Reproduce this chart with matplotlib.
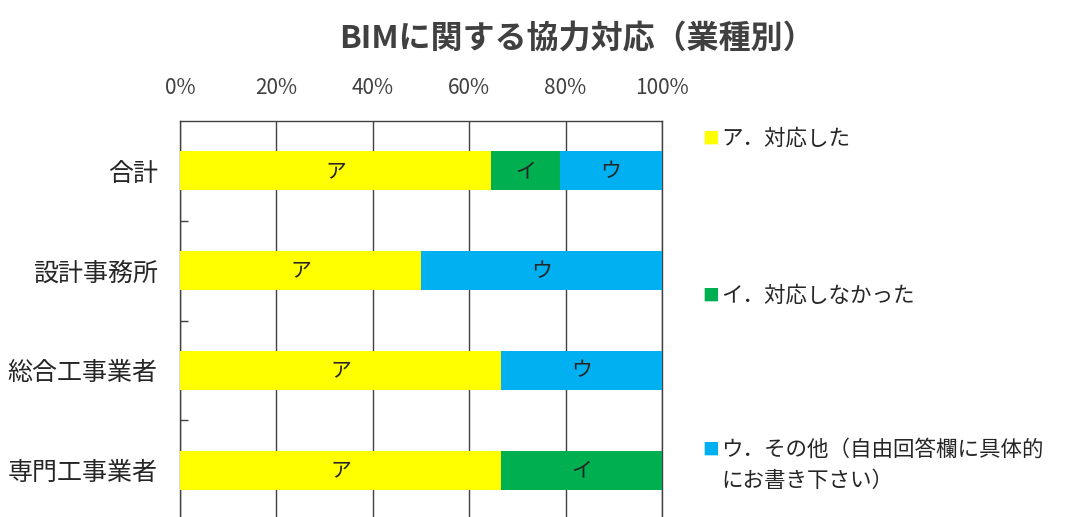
import matplotlib
matplotlib.use('Agg')
import matplotlib.pyplot as plt
import numpy as np

plt.rcParams['font.family'] = ['Noto Sans CJK JP', 'DejaVu Sans']

# 業種別の回答割合（%）
categories = ['合計', '設計事務所', '総合工事業者', '専門工事業者']
seg_labels = ['ア', 'イ', 'ウ']
legend_labels = ['ア．対応した', 'イ．対応しなかった', 'ウ．その他（自由回答欄に具体的\nにお書き下さい）']
a_vals = [64.6, 50.0, 66.7, 66.7]
i_vals = [14.2, 0.0, 0.0, 33.3]
u_vals = [21.2, 50.0, 33.3, 0.0]
colors = ['#FFFF00', '#00B050', '#00B0F0']
xticks = [0, 20, 40, 60, 80, 100]

fig = plt.figure(figsize=(10.72, 5.17), dpi=100)
ax = fig.add_axes([180 / 1072, 1 - 520 / 517, 482 / 1072, 399 / 517])

y = np.arange(len(categories))
left = np.zeros(len(categories))
for vals, lab, c in zip([a_vals, i_vals, u_vals], seg_labels, colors):
    vals = np.array(vals)
    ax.barh(y, vals, left=left, height=0.39, color=c, zorder=3)
    for yi, l, v in zip(y, left, vals):
        if v > 0:
            ax.text(l + v / 2, yi, lab, ha='center', va='center',
                    fontsize=15, color='#262626', zorder=4)
    left += vals

ax.set_xlim(0, 100)
ax.set_ylim(3.5, -0.5)

# 目盛り（上側）
ax.xaxis.tick_top()
ax.set_xticks(xticks)
ax.set_xticklabels([f'{t}%' for t in xticks], fontsize=15, color='#404040')
ax.tick_params(axis='x', length=0, pad=16)
ax.grid(axis='x', color='#404040', linewidth=1, zorder=0)

ax.set_yticks(y)
ax.set_yticklabels(categories, fontsize=18, color='#262626')
ax.tick_params(axis='y', length=0, pad=16)
ax.set_yticks([0.5, 1.5, 2.5], minor=True)
ax.tick_params(axis='y', which='minor', direction='in', length=6,
               color='#404040', width=1)

for s in ax.spines.values():
    s.set_color('#404040')
    s.set_linewidth(1)

fig.text(0.538, 0.923, 'BIMに関する協力対応（業種別）', ha='center', va='center',
         fontsize=23, fontweight='bold', color='#404040')

# 凡例（マーカーは1行目に合わせる）
leg_y = [139, 296, 450]
for lab, c, py in zip(legend_labels, colors, leg_y):
    fig.text(702 / 1072, 1 - py / 517, '■', color=c, fontsize=12,
             ha='left', va='center')
    for k, line in enumerate(lab.split('\n')):
        yy = 1 - (py + 31 * k) / 517
        fig.text(721 / 1072, yy, line, color='#262626', fontsize=15.5,
                 ha='left', va='center')

fig.savefig('out.png', dpi=100, facecolor='white')
